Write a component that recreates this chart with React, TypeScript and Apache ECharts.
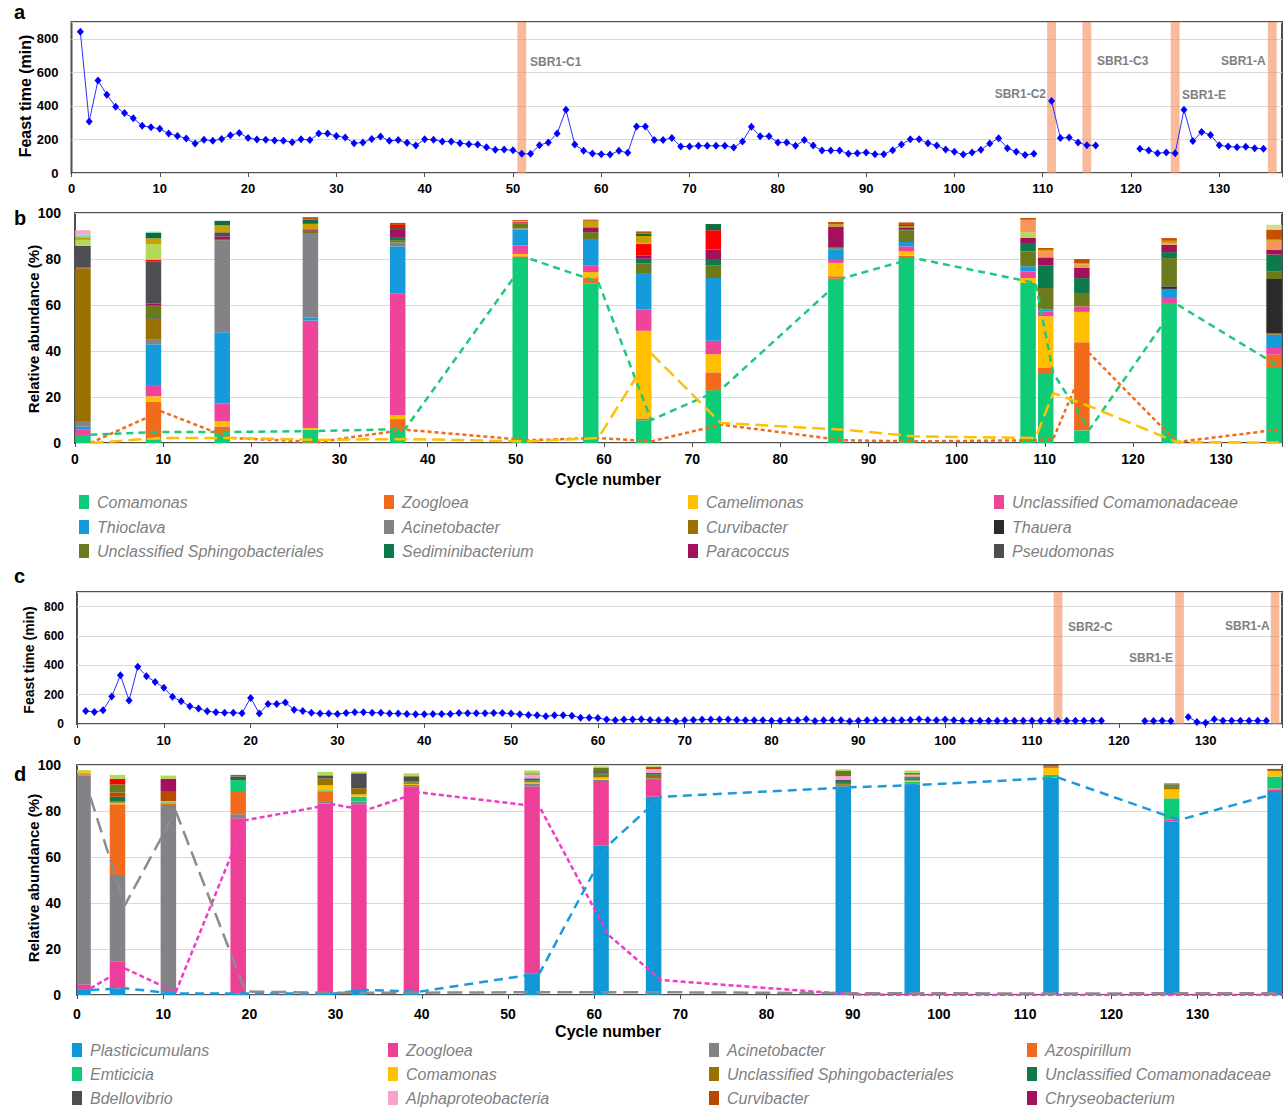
import React, { useEffect, useRef } from 'react';
import * as echarts from 'echarts';

const FONT = '"Liberation Sans", Arial, Helvetica, sans-serif';

// ---------- Panel a: feast time, SBR1 (index 0 = cycle 1) ----------
const feastA: (number | null)[] = [
  842, 307, 551, 467, 395, 357, 327, 281, 273, 263,
  235, 221, 205, 176, 198, 192, 203, 225, 239, 209,
  200, 198, 194, 192, 184, 201, 196, 235, 235, 221,
  211, 178, 182, 203, 217, 192, 196, 180, 164, 201,
  198, 188, 188, 178, 172, 170, 154, 138, 140, 136,
  114, 114, 166, 182, 235, 377, 170, 132, 116, 112,
  110, 132, 120, 277, 277, 196, 196, 209, 158, 158,
  162, 162, 162, 162, 152, 188, 275, 219, 219, 182,
  182, 162, 196, 164, 134, 134, 134, 114, 118, 122,
  112, 112, 136, 170, 201, 201, 178, 164, 140, 126,
  110, 122, 138, 176, 207, 148, 126, 108, 114, null,
  429, 209, 211, 182, 166, 164, null, null, null, null,
  144, 134, 118, 122, 118, 377, 190, 245, 227, 166,
  158, 154, 156, 148, 144,
];
const bandsA = [51, 111, 115, 125, 136];
const bandNamesA = ['SBR1-C1', 'SBR1-C2', 'SBR1-C3', 'SBR1-E', 'SBR1-A'];

// ---------- Panel c: feast time, SBR2 (index 0 = cycle 1) ----------
const feastC: (number | null)[] = [
  89, 82, 93, 187, 333, 160, 390, 326, 287, 248,
  185, 155, 121, 105, 87, 80, 77, 77, 73, 178,
  71, 137, 137, 146, 98, 89, 77, 71, 71, 68,
  75, 80, 80, 77, 77, 71, 71, 68, 66, 66,
  68, 68, 68, 75, 73, 73, 73, 75, 75, 71,
  66, 62, 59, 52, 59, 59, 57, 43, 43, 41,
  30, 25, 30, 30, 32, 27, 25, 27, 18, 25,
  27, 30, 30, 30, 30, 27, 25, 25, 25, 23,
  23, 25, 25, 32, 20, 25, 25, 25, 18, 22,
  25, 25, 25, 25, 25, 27, 32, 27, 25, 30,
  25, 22, 22, 22, 22, 22, 22, 22, 22, 22,
  22, 22, 20, 22, 22, 22, 22, 22, null, null,
  null, null, 20, 20, 22, 20, null, 48, 14, 9,
  32, 23, 23, 23, 23, 23, 23,
];
const bandsC = [113, 127, 138];
const bandNamesC = ['SBR2-C', 'SBR1-E', 'SBR1-A'];

// ---------- Panel b: relative abundance, SBR1 ----------
const bSampleX = [0.9, 8.9, 16.7, 26.7, 36.6, 50.5, 58.5, 64.5, 72.4, 86.3, 94.3, 108.1, 110.1, 114.2, 124.1, 136.0];
const bComamonas = [3.5, 1.5, 4.3, 5.8, 6.1, 80.4, 69.3, 9.9, 22.9, 71.4, 80.4, 69.6, 30.4, 5.5, 60.4, 32.6];
const bZoogloea = [0, 16.5, 2.9, 0, 4.3, 0.8, 2.4, 0.8, 7.8, 1.1, 1.0, 0, 2.2, 38.3, 0.5, 5.8];
const bCamelimonas = [0, 2.3, 2.2, 0.7, 1.8, 1.0, 2.6, 38.1, 7.9, 5.8, 1.9, 2.1, 22.5, 13.2, 0, 0];
const bUnclComamonadaceae = [2.5, 4.9, 7.8, 46.7, 52.7, 3.7, 2.8, 9.3, 5.9, 1.7, 2.2, 2.9, 2.1, 2.4, 2.1, 2.9];
const bThioclava = [1.1, 17.7, 30.9, 1.4, 20.6, 6.9, 11.6, 15.8, 27.2, 4.1, 1.9, 2.2, 0.8, 0, 4.0, 5.8];
const bAcinetobacter = [2.5, 2.0, 40.0, 36.7, 1.7, 0.5, 0, 0, 0, 0, 0, 0, 0, 0, 0, 0];
const bCurvibacter = [66.4, 9.0, 0, 0, 0, 0, 0, 0, 0, 0, 0, 0, 0, 0, 0, 0.7];
const bThauera = [0, 0.3, 0, 0, 0, 0, 0, 0, 0, 0, 0, 0, 0, 0, 1.1, 23.5];
const bUnclSphingo = [0, 5.5, 0.6, 1.0, 1.0, 2.2, 3.0, 4.1, 5.4, 0.5, 5.1, 6.5, 9.4, 5.8, 12.3, 3.4];
const bSediminibacterium = [0, 0, 0, 0, 1.0, 0, 0, 2.1, 2.9, 0.5, 0.5, 3.7, 9.7, 6.5, 2.6, 7.2];
const bParacoccus = [0.3, 0.9, 1.0, 0.6, 3.8, 0.4, 1.8, 1.5, 4.1, 9.0, 0.8, 2.1, 3.6, 4.4, 3.2, 2.2];
const bPseudomonas = [9.4, 18.4, 1.9, 0, 0.9, 0, 0, 0, 0, 0, 0, 0, 0, 0, 0, 0];
const bOtherRed = [0, 0.7, 0, 0, 0.9, 0.3, 0.3, 4.9, 8.4, 0, 0, 0, 0, 0, 0, 0];
const bOtherLightGreen = [2.6, 6.8, 0, 0, 0, 0, 0, 0, 0, 0, 0, 2.5, 0, 0, 0, 0];
const bOtherLightOrange = [0, 0, 0, 0, 0, 0.3, 0, 0.5, 0, 0, 0, 5.5, 2.5, 1.5, 0.5, 3.8];
const bOtherGold = [1.2, 2.5, 3.0, 2.4, 0, 0, 2.8, 3.0, 0, 1.0, 0.5, 0, 0.8, 0.5, 1.2, 0.5];
const bOtherDarkGreen = [0, 2.3, 2.0, 1.9, 0, 0, 0, 1.0, 2.7, 0, 0.5, 0, 0, 0, 0, 0];
const bOtherDarkOrange = [0, 0, 0, 1.0, 0.9, 0.4, 0.5, 1.0, 0, 1.0, 1.1, 0.7, 0.8, 1.9, 1.2, 4.4];
const bOtherMint = [1.2, 0.6, 0, 0, 0, 0, 0, 0, 0, 0, 0, 0, 0, 0, 0, 0];
const bOtherPink = [1.8, 0, 0, 0, 0, 0, 0, 0, 0, 0, 0, 0, 0, 0, 0, 0];
const bOtherKhaki = [0, 0, 0, 0, 0, 0, 0, 0, 0, 0, 0, 0, 0, 0, 0, 2.1];
// dashed trend lines (panel b)
const bLineComamonas = [3.6, 4.8, 4.8, 5.2, 6.1, 80.4, 70.0, 10.0, 23.2, 71.7, 80.4, 69.6, 30.4, 5.8, 60.4, 32.6];
const bLineZoogloea = [0, 13.8, 2.2, 0.4, 5.8, 1.2, 2.2, 0.7, 8.0, 1.2, 0.7, 1.2, 1.7, 39.0, 0.4, 6.0];
const bLineCamelimonas = [0, 2.2, 2.2, 1.4, 1.7, 0.7, 2.2, 39.0, 8.7, 5.8, 2.9, 2.2, 21.7, 16.0, 0.4, 0.2];

// ---------- Panel d: relative abundance, SBR2 ----------
const dSampleX = [0.7, 4.7, 10.6, 18.7, 28.8, 32.7, 38.8, 52.8, 60.8, 66.9, 88.9, 96.9, 113.0, 127.0, 139.0];
const dPlasticicumulans = [2.2, 2.9, 1.2, 0.7, 0.7, 2.2, 1.2, 9.4, 64.9, 86.2, 90.6, 91.6, 94.5, 75.4, 88.7];
const dZoogloea = [2.4, 11.6, 0, 76.1, 82.6, 80.7, 89.4, 81.2, 28.1, 7.3, 0, 0, 0, 1.0, 0.6];
const dAcinetobacter = [90.8, 37.7, 81.4, 1.8, 1.0, 1.2, 0.7, 1.4, 0.6, 0.7, 0.8, 0.5, 0, 0, 0];
const dAzospirillum = [0.6, 30.7, 0.7, 10.1, 4.1, 0, 0, 0, 0, 0, 0, 0, 0, 0, 0.5];
const dEmticicia = [0.4, 0, 0.5, 4.8, 0.6, 2.1, 0, 0, 0, 0, 0, 0.6, 1.2, 9.1, 5.2];
const dComamonas = [1.0, 0.7, 0.5, 0, 2.2, 1.0, 0.5, 0.5, 1.0, 0, 0, 0.5, 3.1, 3.9, 2.3];
const dUnclSphingo = [0, 0.7, 0, 0, 2.9, 2.7, 0.7, 0.7, 1.2, 1.5, 0.8, 0.8, 0.5, 1.0, 0.5];
const dUnclComamonadaceae = [0, 1.9, 0, 0, 0, 0, 0.3, 0.3, 0.6, 0.3, 0.8, 0.5, 0, 0.3, 0];
const dBdellovibrio = [0, 0, 0, 1.5, 1.4, 6.5, 2.1, 0.7, 0.5, 0.5, 0.5, 0.5, 0, 0.5, 0];
const dAlphaproteobacteria = [0, 0, 0, 0, 0, 0, 0, 1.7, 0, 1.7, 1.7, 0.8, 0, 0, 0];
const dCurvibacter = [0, 1.8, 4.4, 0, 0, 0, 0, 0, 0.5, 0.5, 0, 0, 0.7, 0.3, 0.5];
const dChryseobacterium = [0, 0, 5.2, 0, 0, 0, 0, 0, 0, 0, 0, 0, 0, 0, 0];
const dOtherOlive = [0, 3.6, 0, 0.7, 0, 0, 0.5, 0.5, 1.5, 0.5, 2.4, 0.8, 0, 0.5, 0];
const dOtherRed = [0, 2.3, 0, 0, 0, 0, 0, 0, 0, 0, 0, 0, 0, 0, 0];
const dOtherLightGreen = [0.4, 1.8, 1.5, 0, 1.5, 0.7, 1.0, 1.2, 0.5, 0.5, 0.5, 1.0, 0, 0, 0];
// dashed trend lines (panel d)
const dLineZoogloea = [2.9, 11.6, 1.2, 76.0, 82.9, 80.4, 88.1, 81.9, 26.1, 6.5, 0.3, 0, 0, 0, 0];
const dLinePlasticicumulans = [2.2, 2.9, 0.6, 0.6, 0.6, 2.2, 1.4, 9.4, 65.2, 86.2, 90.3, 91.3, 94.5, 76.1, 88.4];
const dLineAcinetobacter = [86.0, 39.0, 80.0, 1.5, 1.0, 1.0, 1.0, 1.2, 1.2, 1.2, 0.8, 0.8, 0.6, 0.8, 0.8];

type Taxon = { name: string; color: string; values: number[]; legend: boolean };

const taxaB: Taxon[] = [
  { name: 'Comamonas', color: '#0DCB77', values: bComamonas, legend: true },
  { name: 'Zoogloea', color: '#F26B1D', values: bZoogloea, legend: true },
  { name: 'Camelimonas', color: '#FFC000', values: bCamelimonas, legend: true },
  { name: 'Unclassified Comamonadaceae', color: '#EE4499', values: bUnclComamonadaceae, legend: true },
  { name: 'Thioclava', color: '#159BDB', values: bThioclava, legend: true },
  { name: 'Acinetobacter', color: '#838387', values: bAcinetobacter, legend: true },
  { name: 'Curvibacter', color: '#9A7000', values: bCurvibacter, legend: true },
  { name: 'Thauera', color: '#2B2B2B', values: bThauera, legend: true },
  { name: 'Unclassified Sphingobacteriales', color: '#6B7A1C', values: bUnclSphingo, legend: true },
  { name: 'Sediminibacterium', color: '#0C7A4A', values: bSediminibacterium, legend: true },
  { name: 'Paracoccus', color: '#A3105C', values: bParacoccus, legend: true },
  { name: 'Pseudomonas', color: '#4D4D52', values: bPseudomonas, legend: true },
  { name: 'other-red', color: '#FF0000', values: bOtherRed, legend: false },
  { name: 'other-lightgreen', color: '#B5D957', values: bOtherLightGreen, legend: false },
  { name: 'other-lightorange', color: '#F7955A', values: bOtherLightOrange, legend: false },
  { name: 'other-gold', color: '#C9A000', values: bOtherGold, legend: false },
  { name: 'other-darkgreen', color: '#0A6E3E', values: bOtherDarkGreen, legend: false },
  { name: 'other-darkorange', color: '#C75000', values: bOtherDarkOrange, legend: false },
  { name: 'other-mint', color: '#7FE0C0', values: bOtherMint, legend: false },
  { name: 'other-pink', color: '#F6A6C8', values: bOtherPink, legend: false },
  { name: 'other-khaki', color: '#D9D98C', values: bOtherKhaki, legend: false },
];

const taxaD: Taxon[] = [
  { name: 'Plasticicumulans', color: '#0E98D8', values: dPlasticicumulans, legend: true },
  { name: 'Zoogloea', color: '#EE3F96', values: dZoogloea, legend: true },
  { name: 'Acinetobacter', color: '#838387', values: dAcinetobacter, legend: true },
  { name: 'Azospirillum', color: '#F26B1D', values: dAzospirillum, legend: true },
  { name: 'Emticicia', color: '#0DCB77', values: dEmticicia, legend: true },
  { name: 'Comamonas', color: '#FFC000', values: dComamonas, legend: true },
  { name: 'Unclassified Sphingobacteriales', color: '#9A7000', values: dUnclSphingo, legend: true },
  { name: 'Unclassified Comamonadaceae', color: '#0C7A4A', values: dUnclComamonadaceae, legend: true },
  { name: 'Bdellovibrio', color: '#4D4D52', values: dBdellovibrio, legend: true },
  { name: 'Alphaproteobacteria', color: '#F7A1CB', values: dAlphaproteobacteria, legend: true },
  { name: 'Curvibacter', color: '#B84A00', values: dCurvibacter, legend: true },
  { name: 'Chryseobacterium', color: '#A3105C', values: dChryseobacterium, legend: true },
  { name: 'other-olive', color: '#6B7A1C', values: dOtherOlive, legend: false },
  { name: 'other-red', color: '#FF0000', values: dOtherRed, legend: false },
  { name: 'other-lightgreen', color: '#B5D957', values: dOtherLightGreen, legend: false },
];

// ---------- layout (pixels) ----------
const GRIDS = [
  { left: 71.5, top: 22, width: 1211.5, height: 151, xMax: 137.1, yMax: 900, yInt: 200 },
  { left: 75, top: 213, width: 1207, height: 230, xMax: 136.9, yMax: 100, yInt: 20 },
  { left: 77, top: 592, width: 1206, height: 132, xMax: 138.8, yMax: 900, yInt: 200 },
  { left: 77, top: 765, width: 1207, height: 230, xMax: 139.8, yMax: 100, yInt: 20 },
];
const BAR_WIDTH = 15.5;
const LINE_OFFSET = 0.85; // trend-line vertices sit at the right edge of each bar
const BAND_LABEL_POS_A = [[530, 62, 'left'], [1046, 94, 'right'], [1097, 61, 'left'], [1182, 95, 'left'], [1221, 61, 'left']];
const BAND_LABEL_POS_C = [[1068, 627, 'left'], [1129, 658, 'left'], [1225, 626, 'left']];
const LEGEND_B = { colX: [79, 384, 688, 994], rowY: [502, 527, 551] };
const LEGEND_D = { colX: [72, 388, 709, 1027], rowY: [1050, 1074, 1098] };

function txt(text: string, x: number, y: number, font: string, fill: string, align = 'left', rotation = 0) {
  return {
    type: 'text',
    x,
    y,
    rotation,
    silent: true,
    style: {
      text,
      font,
      fill,
      align,
      verticalAlign: 'middle',
      textAlign: align,
      textVerticalAlign: 'middle',
    },
  };
}

function legendGraphics(taxa: Taxon[], L: { colX: number[]; rowY: number[] }) {
  const out: any[] = [];
  taxa.filter((t) => t.legend).forEach((t, i) => {
    const col = i % 4;
    const row = Math.floor(i / 4);
    const x = L.colX[col];
    const y = L.rowY[row];
    out.push({ type: 'rect', x, y: y - 7, silent: true, shape: { width: 10, height: 14 }, style: { fill: t.color } });
    out.push(txt(t.name, x + 18, y, `italic 16px ${FONT}`, '#7F7F7F'));
  });
  return out;
}

const tenFormatter = (v: number) => (Math.abs(v - Math.round(v / 10) * 10) < 1e-6 ? String(Math.round(v)) : '');

// stacked segments drawn by a custom series through the axes' own scales
function stackedSeries(taxa: Taxon[], xs: number[], idx: number) {
  const base = xs.map(() => 0);
  return taxa.map((t) => {
    const data = xs.map((x, i) => {
      const lo = base[i];
      const hi = lo + t.values[i];
      base[i] = hi;
      return [x, lo, hi];
    });
    return {
      type: 'custom',
      name: t.name,
      xAxisIndex: idx,
      yAxisIndex: idx,
      clip: true,
      z: 2,
      encode: { x: 0, y: [1, 2] },
      data,
      renderItem: (_params: any, api: any) => {
        const x = api.value(0);
        const p0 = api.coord([x, api.value(1)]);
        const p1 = api.coord([x, api.value(2)]);
        const h = p0[1] - p1[1];
        if (h <= 0) return null;
        return {
          type: 'rect',
          shape: { x: p0[0] - BAR_WIDTH / 2, y: p1[1], width: BAR_WIDTH, height: h },
          style: { fill: t.color },
        };
      },
    };
  });
}

function buildOption() {
  const grid = GRIDS.map((g) => ({
    left: g.left,
    top: g.top,
    width: g.width,
    height: g.height,
    show: true,
    borderColor: '#4F4F4F',
    borderWidth: 2,
    backgroundColor: '#FFFFFF',
    containLabel: false,
  }));
  const xMargins = [9, 9, 10, 12];
  const yMargins = [13, 14, 13, 16];
  const xFont = [13, 14, 13, 14];
  const yFont = [13, 14, 12, 14];
  const xAxis = GRIDS.map((g, i) => ({
    type: 'value',
    gridIndex: i,
    min: 0,
    max: g.xMax,
    interval: 10,
    axisLine: { show: false },
    axisTick: { show: true, length: 4, lineStyle: { color: '#4F4F4F' } },
    splitLine: { show: false },
    axisLabel: {
      margin: xMargins[i],
      color: '#000',
      fontWeight: 'bold',
      fontSize: xFont[i],
      fontFamily: FONT,
      formatter: tenFormatter,
    },
  }));
  const yAxis = GRIDS.map((g, i) => ({
    type: 'value',
    gridIndex: i,
    min: 0,
    max: g.yMax,
    interval: g.yInt,
    axisLine: { show: false },
    axisTick: { show: false },
    splitLine: { show: true, lineStyle: { color: '#D9D9D9', width: 1 } },
    axisLabel: {
      margin: yMargins[i],
      color: '#000',
      fontWeight: 'bold',
      fontSize: yFont[i],
      fontFamily: FONT,
      formatter: (v: number) => (Math.abs(v % g.yInt) < 1e-6 ? String(v) : ''),
    },
  }));

  const series: any[] = [];
  const feastLine = (vals: (number | null)[], idx: number) => ({
    type: 'line',
    xAxisIndex: idx,
    yAxisIndex: idx,
    data: vals.map((v, i) => [i + 1, v === null ? '-' : v]),
    connectNulls: false,
    symbol: 'diamond',
    symbolSize: [7, 8],
    itemStyle: { color: '#0000FF' },
    lineStyle: { color: '#2E2EFF', width: 1 },
    z: 3,
  });
  const bandSeries = (bands: number[], idx: number) => ({
    type: 'line',
    xAxisIndex: idx,
    yAxisIndex: idx,
    data: [],
    z: 5,
    silent: true,
    markArea: {
      silent: true,
      itemStyle: { color: 'rgba(245,140,90,0.6)' },
      data: bands.map((c) => [{ xAxis: c - 0.5 }, { xAxis: c + 0.5 }]),
    },
  });
  series.push(feastLine(feastA, 0));
  series.push(bandSeries(bandsA, 0));
  series.push(feastLine(feastC, 2));
  series.push(bandSeries(bandsC, 2));

  series.push(...stackedSeries(taxaB, bSampleX, 1));
  series.push(...stackedSeries(taxaD, dSampleX, 3));

  const dashLine = (vals: number[], xs: number[], idx: number, color: string, dash: number[]) => ({
    type: 'line',
    xAxisIndex: idx,
    yAxisIndex: idx,
    data: xs.map((x, i) => [x + LINE_OFFSET, vals[i]]),
    symbol: 'none',
    lineStyle: { color, width: 2.5, type: dash },
    z: 4,
  });
  series.push(dashLine(bLineComamonas, bSampleX, 1, '#1DC97A', [7, 5]));
  series.push(dashLine(bLineZoogloea, bSampleX, 1, '#F26B1D', [4, 3]));
  series.push(dashLine(bLineCamelimonas, bSampleX, 1, '#FFC000', [13, 6]));
  series.push(dashLine(dLineZoogloea, dSampleX, 3, '#F23BC4', [5, 3]));
  series.push(dashLine(dLinePlasticicumulans, dSampleX, 3, '#1A9BDB', [9, 6]));
  series.push(dashLine(dLineAcinetobacter, dSampleX, 3, '#8C8C8C', [15, 7]));

  const bold = (px: number) => `bold ${px}px ${FONT}`;
  const graphic: any[] = [
    txt('a', 14, 12, bold(20), '#000'),
    txt('b', 14, 218, bold(20), '#000'),
    txt('c', 14, 576, bold(20), '#000'),
    txt('d', 14, 774, bold(20), '#000'),
    txt('Feast time (min)', 25, 96, bold(16), '#000', 'center', Math.PI / 2),
    txt('Relative abundance (%)', 33, 329, bold(15), '#000', 'center', Math.PI / 2),
    txt('Feast time (min)', 29, 660, bold(14), '#000', 'center', Math.PI / 2),
    txt('Relative abundance (%)', 33, 878, bold(15), '#000', 'center', Math.PI / 2),
    txt('Cycle number', 608, 479, bold(16), '#000', 'center'),
    txt('Cycle number', 608, 1031, bold(16), '#000', 'center'),
  ];
  bandNamesA.forEach((n, i) => {
    const p = BAND_LABEL_POS_A[i];
    graphic.push(txt(n, p[0] as number, p[1] as number, bold(12), '#7F7F7F', p[2] as string));
  });
  bandNamesC.forEach((n, i) => {
    const p = BAND_LABEL_POS_C[i];
    graphic.push(txt(n, p[0] as number, p[1] as number, bold(12), '#7F7F7F', p[2] as string));
  });
  graphic.push(...legendGraphics(taxaB, LEGEND_B));
  graphic.push(...legendGraphics(taxaD, LEGEND_D));

  return {
    animation: false,
    backgroundColor: '#FFFFFF',
    textStyle: { fontFamily: FONT },
    grid,
    xAxis,
    yAxis,
    series,
    graphic,
  };
}

export default function App() {
  const ref = useRef<HTMLDivElement>(null);
  useEffect(() => {
    if (!ref.current) return;
    const chart = echarts.init(ref.current, null, { renderer: 'svg' });
    chart.setOption(buildOption() as any);
    return () => chart.dispose();
  }, []);
  return <div ref={ref} style={{ position: 'absolute', left: 0, top: 0, width: 1285, height: 1109 }} />;
}
